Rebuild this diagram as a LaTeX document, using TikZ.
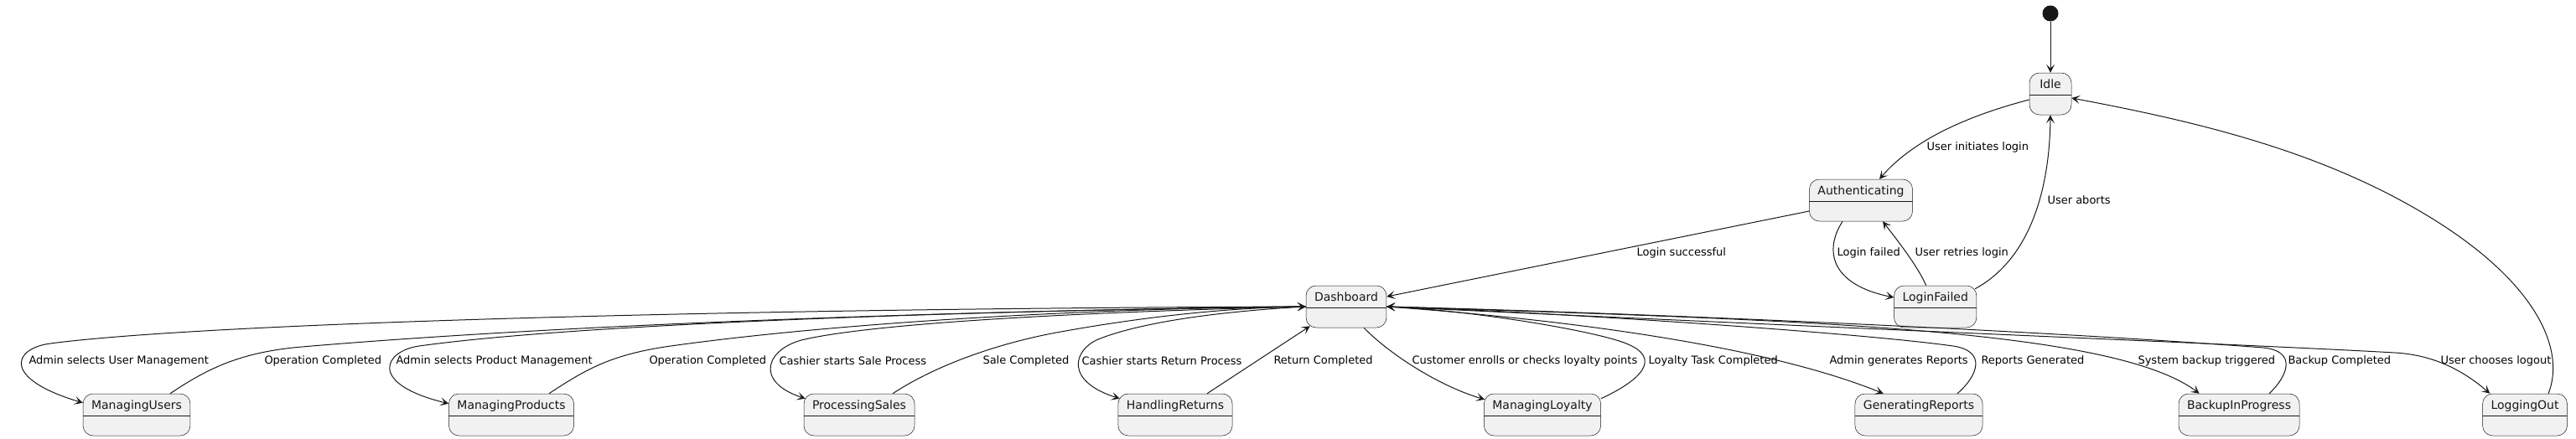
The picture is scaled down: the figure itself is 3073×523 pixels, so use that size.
\documentclass[tikz,border=0pt]{standalone}
\usepackage{fontspec}
\setmainfont{DejaVu Sans}
\usepackage{tikz}
\usetikzlibrary{arrows.meta,positioning,calc}
\definecolor{stfill}{HTML}{F1F1F1}
\definecolor{stline}{HTML}{181818}

\begin{document}
\begin{tikzpicture}[->,>={Stealth[length=10pt,width=10pt,inset=5pt]},
        x=1pt,y=-1pt,line width=1pt,color=stline]
    \tikzstyle{stbox}=[rectangle,rounded corners=12pt,draw=stline,line width=0.5pt,fill=stfill,
        minimum width=50pt,minimum height=50pt,inner xsep=10pt,inner ysep=0pt,
        text height=18pt,text depth=32pt,font=\fontsize{14}{16}\selectfont,
        path picture={\draw[-,stline,line width=0.5pt]
            ([yshift=-26pt]path picture bounding box.north west) --
            ([yshift=-26pt]path picture bounding box.north east);}]
    \tikzstyle{lbl}=[font=\fontsize{13}{15}\selectfont,inner sep=0pt,anchor=west,text=black]
    \useasboundingbox (0,0) rectangle (3073,523);

    \node[circle,fill=stline,minimum size=19pt,inner sep=0pt] (init) at (2446,16) {};
    \node[stbox] (idle) at (2446,112) {Idle};
    \node[stbox] (auth) at (2220,239) {Authenticating};
    \node[stbox] (dash) at (1606,366) {Dashboard};
    \node[stbox] (fail) [right=605pt of dash] {LoginFailed};
    \node[stbox] (users) at (163,495) {ManagingUsers};
    \node[stbox] (products) at (610,495) {ManagingProducts};
    \node[stbox] (sales) at (1025,495) {ProcessingSales};
    \node[stbox] (returns) at (1402,495) {HandlingReturns};
    \node[stbox] (loyalty) at (1840,495) {ManagingLoyalty};
    \node[stbox] (reports) at (2289,495) {GeneratingReports};
    \node[stbox] (backup) at (2671,495) {BackupInProgress};
    \node[stbox] (logout) at (3012,495) {LoggingOut};

    % login part
    \draw (init) -- (idle);
    \draw ($(idle.west)+(0,7)$) .. controls (2340,140) and (2280,170) .. ($(auth.north)+(22,0)$)
        node[lbl,at={(2298,176)}] {User initiates login};
    \draw ($(auth.west)+(0,13)$) -- ($(dash.east)+(0,-12)$)
        node[lbl,at={(1952,302)}] {Login successful};
    \draw ($(auth.south)+(-22,0)$) .. controls (2175,300) and (2185,340) .. ($(fail.west)+(0,-11)$)
        node[lbl,at={(2191,302)}] {Login failed};
    \draw ($(fail.north)+(-11,0)$) .. controls (2288,318) and (2262,285) .. ($(auth.south)+(26,0)$)
        node[lbl,at={(2284,302)}] {User retries login};
    \draw ($(fail.north east)+(-2,4)$) .. controls (2420,310) and (2445,230) .. (idle.south)
        node[lbl,at={(2442,239)}] {User aborts};
    \draw ($(logout.north)+(28,0)$) .. controls (3060,420) and (3030,340) .. (2900,260)
        .. controls (2770,180) and (2620,145) .. ($(idle.east)+(0,5)$);

    % dashboard, left side
    \draw (dash.west) .. controls (900,368) and (250,385) .. (60,410)
        .. controls (15,416) and (2,452) .. ($(users.north west)+(0,11)$)
        node[lbl,at={(34,431)}] {Admin selects User Management};
    \draw ($(users.north)+(40,0)$) .. controls (250,438) and (290,420) .. (360,414)
        .. controls (700,385) and (1200,370) .. (dash.west)
        node[lbl,at={(315,431)}] {Operation Completed};
    \draw (dash.west) .. controls (1200,370) and (700,385) .. (500,413)
        .. controls (458,419) and (438,458) .. ($(products.north west)+(0,12)$)
        node[lbl,at={(472,431)}] {Admin selects Product Management};
    \draw ($(products.north)+(45,0)$) .. controls (700,440) and (730,423) .. (800,413)
        .. controls (1000,385) and (1300,368) .. (dash.west)
        node[lbl,at={(774,431)}] {Operation Completed};
    \draw (dash.west) .. controls (1300,372) and (1050,385) .. (960,405)
        .. controls (915,415) and (898,455) .. ($(sales.north west)+(2,6)$)
        node[lbl,at={(929,431)}] {Cashier starts Sale Process};
    \draw ($(sales.north)+(40,0)$) .. controls (1110,440) and (1180,412) .. (1260,397)
        .. controls (1380,375) and (1480,367) .. (dash.west)
        node[lbl,at={(1172,431)}] {Sale Completed};
    \draw (dash.west) .. controls (1450,372) and (1360,385) .. (1310,405)
        .. controls (1280,418) and (1270,455) .. ($(returns.north west)+(2,6)$)
        node[lbl,at={(1290,431)}] {Cashier starts Return Process};
    \draw ($(returns.north)+(38,0)$) -- ($(dash.south west)+(5,-2)$)
        node[lbl,at={(1519,431)}] {Return Completed};

    % dashboard, right side
    \draw ($(dash.south)+(21,0)$) .. controls (1660,425) and (1720,462) .. ($(loyalty.north west)+(1,7)$)
        node[lbl,at={(1684,431)}] {Customer enrolls or checks loyalty points};
    \draw ($(loyalty.north east)+(0,6)$) .. controls (1955,455) and (1985,428) .. (1940,410)
        .. controls (1900,394) and (1750,370) .. (dash.east)
        node[lbl,at={(1966,431)}] {Loyalty Task Completed};
    \draw (dash.east) .. controls (1850,380) and (2100,410) .. ($(reports.north west)+(34,0)$)
        node[lbl,at={(2182,431)}] {Admin generates Reports};
    \draw ($(reports.north)+(46,0)$) .. controls (2360,448) and (2370,419) .. (2330,413)
        .. controls (2200,395) and (1800,370) .. (dash.east)
        node[lbl,at={(2363,431)}] {Reports Generated};
    \draw (dash.east) .. controls (2150,382) and (2520,392) .. ($(backup.north west)+(25,0)$)
        node[lbl,at={(2550,431)}] {System backup triggered};
    \draw ($(backup.north)+(36,0)$) .. controls (2730,448) and (2740,419) .. (2700,415)
        .. controls (2400,392) and (1900,372) .. (dash.east)
        node[lbl,at={(2729,431)}] {Backup Completed};
    \draw (dash.east) .. controls (2200,392) and (2700,412) .. (2857,421)
        .. controls (2910,424) and (2945,448) .. ($(logout.north west)+(9,0)$)
        node[lbl,at={(2911,431)}] {User chooses logout};
\end{tikzpicture}
\end{document}
